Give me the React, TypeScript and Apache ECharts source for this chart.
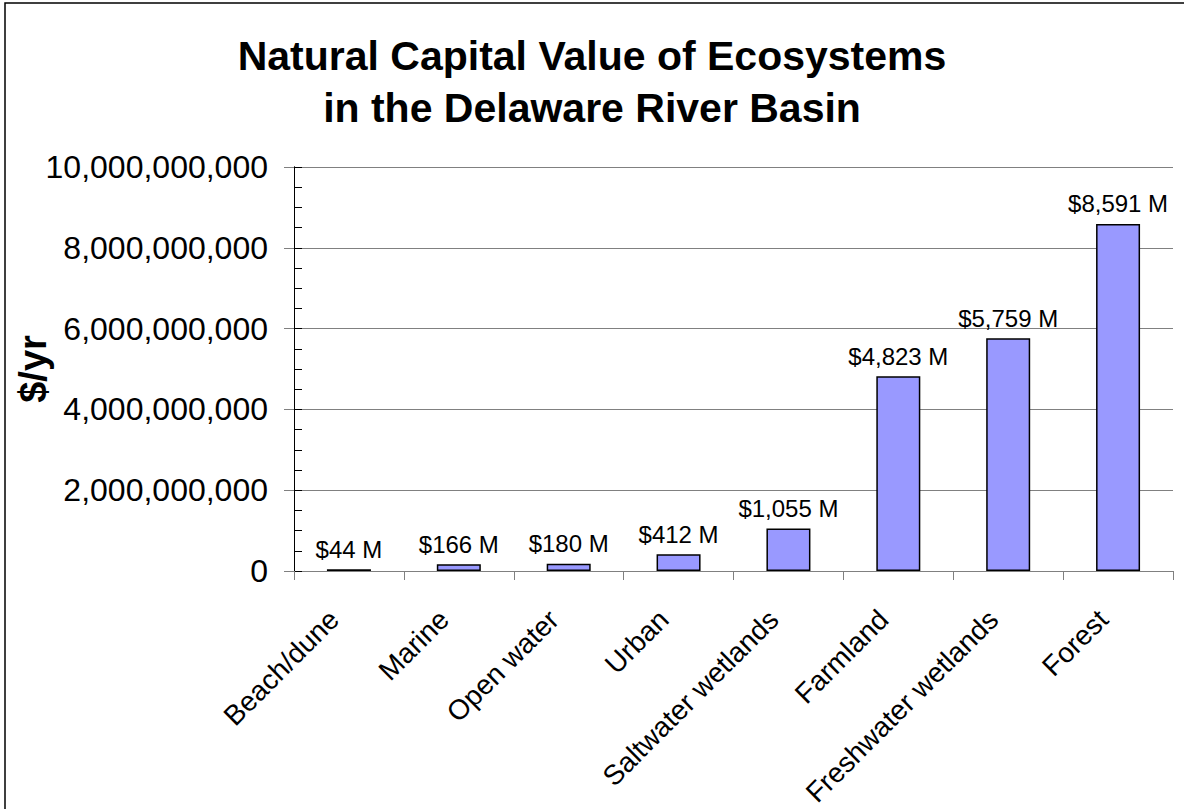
import React, { useEffect, useRef } from "react";
import * as echarts from "echarts";

const categories = [
  "Beach/dune",
  "Marine",
  "Open water",
  "Urban",
  "Saltwater wetlands",
  "Farmland",
  "Freshwater wetlands",
  "Forest",
];
const valuesMillions = [44, 166, 180, 412, 1055, 4823, 5759, 8591];
const titleLines = ["Natural Capital Value of Ecosystems", "in the Delaware River Basin"];
const yAxisName = "$/yr";

const FONT = "'Liberation Sans', Arial, sans-serif";

export default function App() {
  const ref = useRef<HTMLDivElement>(null);
  useEffect(() => {
    if (!ref.current) return;
    const chart = echarts.init(ref.current, null, { renderer: "svg" });
    const fmt = (n: number) => n.toLocaleString("en-US");
    chart.setOption({
      animation: false,
      backgroundColor: "#ffffff",
      textStyle: { fontFamily: FONT },
      title: {
        text: titleLines.join("\n"),
        left: "center",
        top: 25,
        padding: [5, 0, 5, 12],
        textStyle: {
          fontFamily: FONT,
          fontSize: 41,
          fontWeight: "bold",
          color: "#000",
          lineHeight: 52,
        },
      },
      graphic: [
        {
          type: "rect",
          shape: { x: 5, y: 3, width: 1200, height: 820 },
          style: { fill: "none", stroke: "#000", lineWidth: 1.5 },
          silent: true,
          z: 100,
        },
      ],
      grid: {
        left: 294,
        right: 11,
        top: 167,
        bottom: 238,
        containLabel: false,
        outerBoundsMode: "none",
      },
      xAxis: {
        type: "category",
        data: categories,
        axisLine: { lineStyle: { color: "#808080", width: 1 } },
        axisTick: { show: true, length: 9, lineStyle: { color: "#808080" } },
        axisLabel: {
          rotate: 45,
          interval: 0,
          margin: 29,
          padding: [0, 21, 0, 0],
          fontSize: 28,
          fontFamily: FONT,
          color: "#000",
        },
      },
      yAxis: [
        {
          type: "value",
          min: 0,
          max: 10000000000,
          interval: 2000000000,
          name: yAxisName,
          nameLocation: "middle",
          nameGap: 242,
          nameMoveOverlap: false,
          nameTextStyle: { fontFamily: FONT, fontSize: 38, fontWeight: "bold", color: "#000" },
          axisLine: { show: true, lineStyle: { color: "#000", width: 1 } },
          axisTick: { show: true, length: 10, lineStyle: { color: "#808080" } },
          axisLabel: {
            margin: 26,
            fontSize: 32,
            fontFamily: FONT,
            color: "#000",
            formatter: (v: number) => fmt(v),
          },
          splitLine: { show: true, lineStyle: { color: "#808080", width: 1 } },
        },
        {
          type: "value",
          min: 0,
          max: 10000000000,
          interval: 500000000,
          position: "left",
          axisLine: { show: true, lineStyle: { color: "#000", width: 1 } },
          axisTick: { show: true, inside: true, length: 8, lineStyle: { color: "#000" } },
          axisLabel: { show: false },
          splitLine: { show: false },
        },
      ],
      series: [
        {
          type: "bar",
          yAxisIndex: 0,
          data: valuesMillions.map((v) => v * 1e6),
          barWidth: 44,
          itemStyle: { color: "#9999FF", borderColor: "#000", borderWidth: 1.5 },
          label: {
            show: true,
            position: "top",
            distance: 8,
            fontSize: 24,
            fontFamily: FONT,
            color: "#000",
            formatter: (p: any) => "$" + fmt(valuesMillions[p.dataIndex]) + " M",
          },
        },
      ],
    });
    return () => chart.dispose();
  }, []);
  return (
    <div
      ref={ref}
      style={{ position: "absolute", left: 0, top: 0, width: 1184, height: 809 }}
    />
  );
}
